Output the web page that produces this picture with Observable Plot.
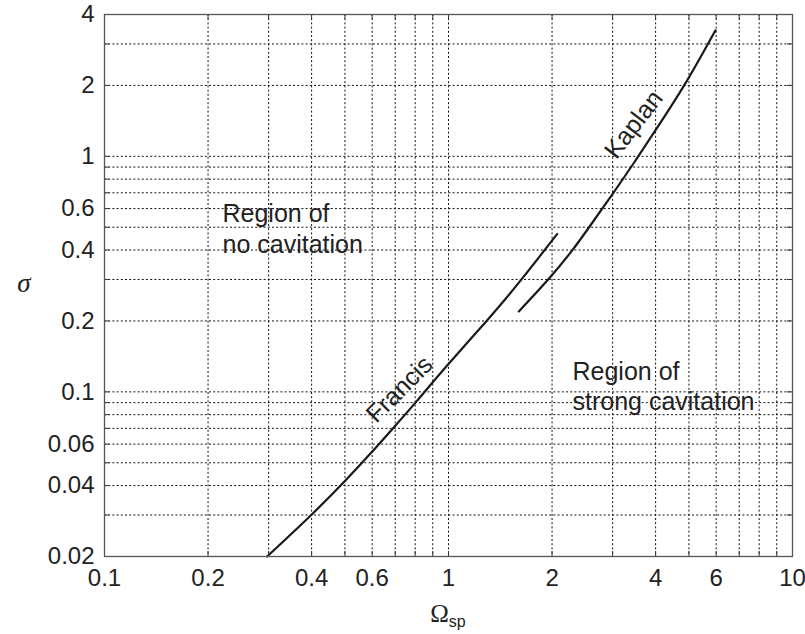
<!DOCTYPE html>
<html>
<head>
<meta charset="utf-8">
<script src="https://cdn.jsdelivr.net/npm/d3@7"></script>
<script src="https://cdn.jsdelivr.net/npm/@observablehq/plot@0.6"></script>
<style>
  html, body { margin: 0; padding: 0; background: white; }
</style>
</head>
<body>
<div id="chart"></div>
<script>
// ---- data ----
const francisOmega = [0.297, 0.397, 0.496, 0.593, 0.693, 0.811, 0.991, 1.296, 1.619, 2.07];
const francisSigma = [0.02, 0.0298, 0.0413, 0.0547, 0.0706, 0.0918, 0.1294, 0.2014, 0.2966, 0.4678];
const kaplanOmega = [1.601, 1.957, 2.289, 2.557, 2.991, 3.457, 3.998, 4.887, 5.973];
const kaplanSigma = [0.2195, 0.3019, 0.3988, 0.4974, 0.6884, 0.9367, 1.2906, 2.045, 3.428];

const xTickValues = [0.1, 0.2, 0.4, 0.6, 1, 2, 4, 6, 10];
const xTickLabels = ["0.1", "0.2", "0.4", "0.6", "1", "2", "4", "6", "10"];
const yTickValues = [0.02, 0.04, 0.06, 0.1, 0.2, 0.4, 0.6, 1, 2, 4];
const yTickLabels = ["0.02", "0.04", "0.06", "0.1", "0.2", "0.4", "0.6", "1", "2", "4"];

const xGridValues = [0.2, 0.3, 0.4, 0.5, 0.6, 0.7, 0.8, 0.9, 1, 2, 3, 4, 5, 6, 7, 8, 9];
const yGridValues = [0.03, 0.04, 0.05, 0.06, 0.07, 0.08, 0.09, 0.1, 0.2, 0.3, 0.4, 0.5, 0.6, 0.7, 0.8, 0.9, 1, 2, 3];

const regionLabels = ["Region of\nno cavitation", "Region of\nstrong cavitation"];
const regionOmega = [0.2203, 2.293];
const regionSigma = [0.650, 0.1393];

const curveLabels = ["Francis", "Kaplan"];
const curveLabelOmega = [0.7205, 3.457];
const curveLabelSigma = [0.1024, 1.365];
const curveLabelAngle = [-45, -52.5];

const xTitle = "Ω";
const xTitleSub = "sp";
const yTitle = "σ";

// ---- tables ----
const francis = francisOmega.map((x, i) => ({x, y: francisSigma[i]}));
const kaplan = kaplanOmega.map((x, i) => ({x, y: kaplanSigma[i]}));
const regions = regionLabels.map((t, i) => ({t, x: regionOmega[i], y: regionSigma[i]}));
const curveTexts = curveLabels.map((t, i) => ({t, x: curveLabelOmega[i], y: curveLabelSigma[i], a: curveLabelAngle[i]}));
const xTicks = xTickValues.map((v, i) => ({v, label: xTickLabels[i]}));
const yTicks = yTickValues.map((v, i) => ({v, label: yTickLabels[i]}));

const W = 805, H = 634, mL = 104, mR = 13, mT = 14, mB = 78;
const fw = W - mL - mR, fh = H - mT - mB;
const gridStyle = {stroke: "#111", strokeWidth: 1, strokeDasharray: "2,2.2"};
const tickLen = 5;
const sans = "'Liberation Sans', Arial, Helvetica, sans-serif";

const plot = Plot.plot({
  width: W, height: H,
  marginLeft: mL, marginRight: mR, marginTop: mT, marginBottom: mB,
  style: {fontFamily: sans, fontSize: "24px", color: "#222", background: "white"},
  x: {type: "log", domain: [0.1, 10], axis: null},
  y: {type: "log", domain: [0.02, 4], axis: null},
  marks: [
    Plot.ruleX(xGridValues, {x: d => d, ...gridStyle}),
    Plot.ruleY(yGridValues, {y: d => d, ...gridStyle}),
    // tick labels
    Plot.text(xTicks, {x: "v", text: "label", frameAnchor: "bottom", lineAnchor: "top", dy: 12,
      fontSize: 24, fill: "#222"}),
    Plot.text(yTicks, {y: "v", text: "label", frameAnchor: "left", textAnchor: "end", dx: -10,
      fontSize: 24, fill: "#222"}),
    Plot.text(regions, {x: "x", y: "y", text: "t", textAnchor: "start", lineAnchor: "top",
      lineHeight: 1.22, fontSize: 25, fill: "#222", ariaLabel: "annotation"}),
    Plot.text(curveTexts, {x: "x", y: "y", text: "t", rotate: "a", textAnchor: "middle", lineAnchor: "middle",
      fontSize: 25, fill: "#222", ariaLabel: "annotation"}),
    Plot.line(francis, {x: "x", y: "y", stroke: "#1a1a1a", strokeWidth: 2.2, curve: "natural"}),
    Plot.line(kaplan, {x: "x", y: "y", stroke: "#1a1a1a", strokeWidth: 2.2, curve: "natural"}),
    // inner ticks on all four sides
    Plot.ruleX(xGridValues, {x: d => d, insetBottom: fh - tickLen, stroke: "#333", strokeWidth: 1}),
    Plot.ruleX(xGridValues, {x: d => d, insetTop: fh - tickLen, stroke: "#333", strokeWidth: 1}),
    Plot.ruleY(yGridValues, {y: d => d, insetRight: fw - tickLen, stroke: "#333", strokeWidth: 1}),
    Plot.ruleY(yGridValues, {y: d => d, insetLeft: fw - tickLen, stroke: "#333", strokeWidth: 1}),
    Plot.frame({stroke: "#555", strokeWidth: 1.3})
  ]
});

document.getElementById("chart").appendChild(plot);

// white backgrounds behind annotation texts
const svg = d3.select(plot);
svg.selectAll("g[aria-label=annotation]").each(function () {
  const g = this;
  const texts = Array.from(g.querySelectorAll("text"));
  texts.forEach(t => {
    const b = t.getBBox();
    const pad = 4;
    const r = document.createElementNS("http://www.w3.org/2000/svg", "rect");
    r.setAttribute("x", b.x - pad);
    r.setAttribute("y", b.y - pad + 2);
    r.setAttribute("width", b.width + 2 * pad);
    r.setAttribute("height", b.height + 2 * pad - 4);
    r.setAttribute("fill", "white");
    const tr = t.getAttribute("transform");
    if (tr) r.setAttribute("transform", tr);
    g.insertBefore(r, texts[0]);
  });
});

// axis titles
const xt = svg.append("text")
  .attr("x", mL + fw / 2).attr("y", 622)
  .attr("text-anchor", "middle")
  .attr("fill", "#222");
xt.append("tspan").attr("font-family", "'Liberation Serif', 'Times New Roman', serif").attr("font-size", 25).text(xTitle);
xt.append("tspan").attr("font-family", sans).attr("font-size", 16).attr("dy", 5).text(xTitleSub);

svg.append("text")
  .attr("x", 24).attr("y", 292)
  .attr("text-anchor", "middle")
  .attr("font-family", "'Liberation Serif', 'Times New Roman', serif")
  .attr("font-style", "italic")
  .attr("font-size", 27)
  .attr("fill", "#222")
  .text(yTitle);
</script>
</body>
</html>
